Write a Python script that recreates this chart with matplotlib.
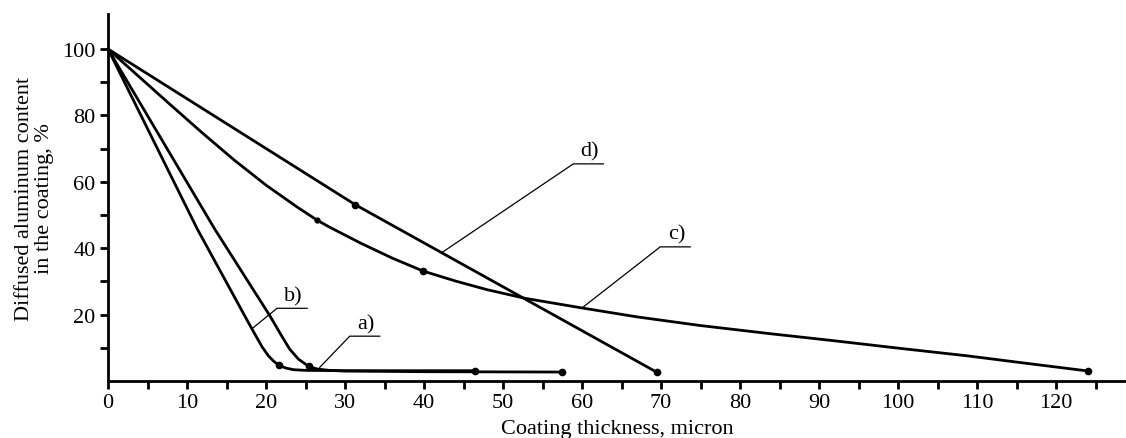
import matplotlib
matplotlib.use("Agg")
import matplotlib.pyplot as plt

plt.rcParams['font.family'] = ['Liberation Serif', 'DejaVu Serif']

# ---- data ----
a_x = [0, 13.5, 20.5, 22.0, 23.0, 24.1, 25.4, 26.5, 28.0, 30.0, 40.0, 57.5]
a_y = [100, 45.8, 19.6, 13.5, 9.6, 6.6, 4.4, 3.6, 3.2, 3.0, 2.8, 2.7]
a_dots = [6, 11]

b_x = [0, 11.3, 17.5, 18.5, 19.5, 20.3, 21.0, 21.6, 22.5, 23.5, 25.0, 30.0, 46.5]
b_y = [100, 45.8, 18.8, 14.5, 10.3, 7.6, 5.9, 4.8, 3.9, 3.4, 3.2, 3.1, 3.1]
b_dots = [7, 12]

c_x = [0, 4, 8, 12, 16, 20, 24, 26.5, 28, 32, 36, 39.9, 44, 48, 52.8, 60, 67, 75, 84, 92,
       100, 108.7, 116, 124.1]
c_y = [100, 91.5, 83, 74.6, 66.5, 59, 52.3, 48.4, 46.4, 41.5, 37, 33.1, 30.1, 27.5, 24.9,
       22, 19.3, 16.7, 14.2, 12.1, 9.9, 7.6, 5.4, 3.0]
c_dots = [11, 23]
c_small_dots = [7]

d_x = [0, 31.3, 69.5]
d_y = [100, 53.1, 2.6]
d_dots = [1, 2]

x_tick_labels = [0, 10, 20, 30, 40, 50, 60, 70, 80, 90, 100, 110, 120]
y_tick_labels = [20, 40, 60, 80, 100]

# curve labels: text pos, leader shelf (x0, x1, y), leader target
labels = {
    'a)': dict(text=(32.7, 17.2), shelf=(30.6, 34.4, 13.5), target=(26.8, 4.1)),
    'b)': dict(text=(23.4, 25.6), shelf=(21.4, 25.2, 21.9), target=(18.2, 15.7)),
    'c)': dict(text=(72.0, 44.3), shelf=(69.9, 73.7, 40.4), target=(60.0, 22.0)),
    'd)': dict(text=(61.0, 69.3), shelf=(58.9, 62.7, 65.4), target=(42.4, 38.9)),
}

# ---- figure ----
W, H = 1126, 439
fig = plt.figure(figsize=(W / 100, H / 100), dpi=100)
left, right, bottom, top = 108, 1126, 382, 15
ax = fig.add_axes([left / W, (H - bottom) / H, (right - left) / W, (bottom - top) / H])

xmax = (right - left) / 7.9
ymax = (bottom - top) / 3.32
ax.set_xlim(0, xmax)
ax.set_ylim(0, ymax)

lw = 2.0
for xs, ys, dots in [(a_x, a_y, a_dots), (b_x, b_y, b_dots), (c_x, c_y, c_dots), (d_x, d_y, d_dots)]:
    ax.plot(xs, ys, color='black', lw=lw, solid_joinstyle='round', solid_capstyle='round',
            marker='o', markersize=4.5, markevery=dots, clip_on=False)
ax.plot(c_x, c_y, color='black', lw=0, marker='o', markersize=3.5, markevery=c_small_dots)

for name, cfg in labels.items():
    x0, x1, ys = cfg['shelf']
    tx, ty = cfg['target']
    ax.plot([tx, x0, x1], [ty, ys, ys], color='black', lw=0.9)
    ax.text(cfg['text'][0], cfg['text'][1], name, fontsize=16, ha='center', va='center')

for s in ['top', 'right']:
    ax.spines[s].set_visible(False)
for s in ['left', 'bottom']:
    ax.spines[s].set_linewidth(2.0)

ax.set_xticks([v for v in range(0, 130, 5)])
ax.set_xticklabels([str(v) if v in x_tick_labels else '' for v in range(0, 130, 5)])
ax.set_yticks([v for v in range(10, 110, 10)])
ax.set_yticklabels([str(v) if v in y_tick_labels else '' for v in range(10, 110, 10)])
ax.tick_params(axis='both', direction='out', length=6, width=2.0, labelsize=16, pad=3)

ax.set_xlabel('Coating thickness, micron', fontsize=16, labelpad=5)
ax.set_ylabel('Diffused aluminum content\nin the coating, %', fontsize=16, labelpad=6,
              linespacing=1.05)

fig.savefig('out.png', dpi=100)
